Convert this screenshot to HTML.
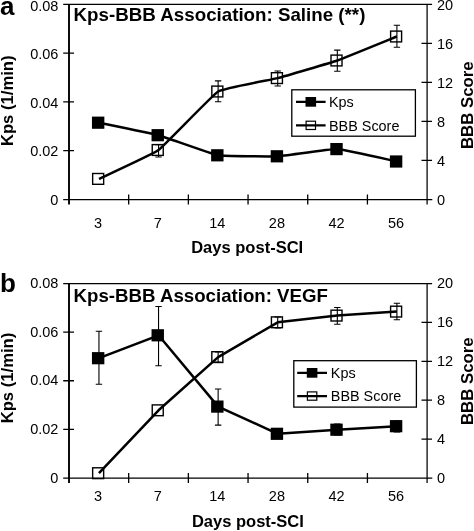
<!DOCTYPE html>
<html><head><meta charset="utf-8"><title>Kps-BBB Association</title>
<style>
html,body{margin:0;padding:0;background:#fff;}
body{width:474px;height:531px;overflow:hidden;}
svg{display:block;will-change:transform;transform:translateZ(0);font-family:"Liberation Sans", sans-serif;}
.t{font-size:14.5px;fill:#000;font-family:"Liberation Sans", sans-serif;}
.b{font-weight:bold;fill:#000;font-family:"Liberation Sans", sans-serif;}
</style></head><body>
<svg width="474" height="531" viewBox="0 0 474 531">
<rect width="474" height="531" fill="#fff"/>
<path d="M63.2,4.3 H432.1 M63.2,199.5 H432.3 M427.1,4.3 V204.5" stroke="#000" stroke-width="1.25" fill="none"/>
<path d="M69.0,4.3 V204.5" stroke="#000" stroke-width="1.9" fill="none"/>
<path d="M63.2,53.10 H74.0 M63.2,101.90 H74.0 M63.2,150.70 H74.0 M421.5,43.34 H432.0 M421.5,82.38 H432.0 M421.5,121.42 H432.0 M421.5,160.46 H432.0 M128.68,194.5 V204.5 M188.37,194.5 V204.5 M248.05,194.5 V204.5 M307.73,194.5 V204.5 M367.42,194.5 V204.5 " stroke="#000" stroke-width="1.3" fill="none"/>
<text x="58.4" y="10.50" text-anchor="end" class="t">0.08</text>
<text x="58.4" y="58.80" text-anchor="end" class="t">0.06</text>
<text x="58.4" y="107.60" text-anchor="end" class="t">0.04</text>
<text x="58.4" y="156.40" text-anchor="end" class="t">0.02</text>
<text x="58.4" y="205.20" text-anchor="end" class="t">0</text>
<text x="437" y="10.10" class="t">20</text>
<text x="437" y="49.14" class="t">16</text>
<text x="437" y="88.18" class="t">12</text>
<text x="437" y="127.22" class="t">8</text>
<text x="437" y="166.26" class="t">4</text>
<text x="437" y="205.30" class="t">0</text>
<text x="98.15" y="227.50" text-anchor="middle" class="t">3</text>
<text x="157.74" y="227.50" text-anchor="middle" class="t">7</text>
<text x="217.33" y="227.50" text-anchor="middle" class="t">14</text>
<text x="276.92" y="227.50" text-anchor="middle" class="t">28</text>
<text x="336.51" y="227.50" text-anchor="middle" class="t">42</text>
<text x="396.10" y="227.50" text-anchor="middle" class="t">56</text>
<text x="247.2" y="253.40" text-anchor="middle" class="b" font-size="16.3" textLength="112" lengthAdjust="spacingAndGlyphs">Days post-SCI</text>
<text transform="translate(13.1,100.80) rotate(-90)" text-anchor="middle" class="b" font-size="16.5" textLength="90.6" lengthAdjust="spacingAndGlyphs">Kps (1/min)</text>
<text transform="translate(472.8,105.20) rotate(-90)" text-anchor="middle" class="b" font-size="16.2" textLength="87.7" lengthAdjust="spacingAndGlyphs">BBB Score</text>
<text x="73.6" y="21.00" class="b" font-size="17.9" textLength="291.8" lengthAdjust="spacingAndGlyphs">Kps-BBB Association: Saline (**)</text>
<text transform="translate(0.0,15.3) scale(1,1)" class="b" font-size="26">a</text>
<path d="M158.54,144.60 V157.00 M155.34,144.60 H161.74 M155.34,157.00 H161.74 M218.13,80.90 V101.80 M214.93,80.90 H221.33 M214.93,101.80 H221.33 M277.72,71.00 V86.00 M274.52,71.00 H280.92 M274.52,86.00 H280.92 M337.31,50.10 V71.30 M334.11,50.10 H340.51 M334.11,71.30 H340.51 M396.90,25.20 V47.30 M393.70,25.20 H400.10 M393.70,47.30 H400.10 " stroke="#000" stroke-width="1.1" fill="none"/>
<path d="M98.95,122.70 C101.66,123.27 153.12,133.72 158.54,135.20 C163.96,136.68 212.71,154.34 218.13,155.30 C223.55,156.26 272.30,156.58 277.72,156.30 C283.14,156.02 331.89,148.86 337.31,149.10 C342.73,149.34 394.19,160.94 396.90,161.50" stroke="#000" stroke-width="2.5" fill="none" stroke-linejoin="round"/>
<path d="M98.95,178.90 C101.66,177.59 153.12,153.97 158.54,150.00 C163.96,146.03 212.71,94.77 218.13,91.50 C223.55,88.23 272.30,79.51 277.72,78.10 C283.14,76.69 331.89,62.39 337.31,60.50 C342.73,58.61 394.19,37.59 396.90,36.50" stroke="#000" stroke-width="2.5" fill="none" stroke-linejoin="round"/>
<rect x="91.95" y="116.60" width="12.4" height="12.2" fill="#000"/>
<rect x="151.54" y="129.10" width="12.4" height="12.2" fill="#000"/>
<rect x="211.13" y="149.20" width="12.4" height="12.2" fill="#000"/>
<rect x="270.72" y="150.20" width="12.4" height="12.2" fill="#000"/>
<rect x="330.31" y="143.00" width="12.4" height="12.2" fill="#000"/>
<rect x="389.90" y="155.40" width="12.4" height="12.2" fill="#000"/>
<rect x="92.65" y="173.50" width="11" height="10.8" fill="none" stroke="#000" stroke-width="1.4"/>
<rect x="152.24" y="144.60" width="11" height="10.8" fill="none" stroke="#000" stroke-width="1.4"/>
<rect x="211.83" y="86.10" width="11" height="10.8" fill="none" stroke="#000" stroke-width="1.4"/>
<rect x="271.42" y="72.70" width="11" height="10.8" fill="none" stroke="#000" stroke-width="1.4"/>
<rect x="331.01" y="55.10" width="11" height="10.8" fill="none" stroke="#000" stroke-width="1.4"/>
<rect x="390.60" y="31.10" width="11" height="10.8" fill="none" stroke="#000" stroke-width="1.4"/>
<rect x="291.8" y="89.8" width="123.59999999999997" height="46.39999999999999" fill="#fff" stroke="#000" stroke-width="1.3"/>
<path d="M296,101.8 H325.6 M296,125.4 H325.6" stroke="#000" stroke-width="2.3"/>
<rect x="305.5" y="97.0" width="10.6" height="9.7" fill="#000"/>
<rect x="306.1" y="121.2" width="9.4" height="8.3" fill="none" stroke="#000" stroke-width="1.2"/>
<text x="329" y="107.0" class="t" style="font-size:14.4px">Kps</text>
<text x="329" y="130.6" class="t" style="font-size:14.4px">BBB Score</text>
<path d="M63.2,283.5 H432.1 M63.2,478.0 H432.3 M427.1,283.5 V483.0" stroke="#000" stroke-width="1.25" fill="none"/>
<path d="M69.0,283.5 V483.0" stroke="#000" stroke-width="1.9" fill="none"/>
<path d="M63.2,332.12 H74.0 M63.2,380.75 H74.0 M63.2,429.38 H74.0 M421.5,322.40 H432.0 M421.5,361.30 H432.0 M421.5,400.20 H432.0 M421.5,439.10 H432.0 M128.68,473.0 V483.0 M188.37,473.0 V483.0 M248.05,473.0 V483.0 M307.73,473.0 V483.0 M367.42,473.0 V483.0 " stroke="#000" stroke-width="1.3" fill="none"/>
<text x="58.4" y="288.20" text-anchor="end" class="t">0.08</text>
<text x="58.4" y="336.82" text-anchor="end" class="t">0.06</text>
<text x="58.4" y="385.45" text-anchor="end" class="t">0.04</text>
<text x="58.4" y="434.07" text-anchor="end" class="t">0.02</text>
<text x="58.4" y="482.70" text-anchor="end" class="t">0</text>
<text x="437" y="288.20" class="t">20</text>
<text x="437" y="327.10" class="t">16</text>
<text x="437" y="366.00" class="t">12</text>
<text x="437" y="404.90" class="t">8</text>
<text x="437" y="443.80" class="t">4</text>
<text x="437" y="482.70" class="t">0</text>
<text x="98.15" y="500.60" text-anchor="middle" class="t">3</text>
<text x="157.74" y="500.60" text-anchor="middle" class="t">7</text>
<text x="217.33" y="500.60" text-anchor="middle" class="t">14</text>
<text x="276.92" y="500.60" text-anchor="middle" class="t">28</text>
<text x="336.51" y="500.60" text-anchor="middle" class="t">42</text>
<text x="396.10" y="500.60" text-anchor="middle" class="t">56</text>
<text x="247.9" y="526.90" text-anchor="middle" class="b" font-size="16.3" textLength="112" lengthAdjust="spacingAndGlyphs">Days post-SCI</text>
<text transform="translate(13.1,378.05) rotate(-90)" text-anchor="middle" class="b" font-size="16.5" textLength="90.6" lengthAdjust="spacingAndGlyphs">Kps (1/min)</text>
<text transform="translate(472.8,381.25) rotate(-90)" text-anchor="middle" class="b" font-size="16.2" textLength="87.7" lengthAdjust="spacingAndGlyphs">BBB Score</text>
<text x="73.6" y="301.60" class="b" font-size="17.9" textLength="254.3" lengthAdjust="spacingAndGlyphs">Kps-BBB Association: VEGF</text>
<text transform="translate(0.1,291.5) scale(1,1)" class="b" font-size="26">b</text>
<path d="M98.95,331.30 V384.20 M95.75,331.30 H102.15 M95.75,384.20 H102.15 M158.54,306.50 V365.80 M155.34,306.50 H161.74 M155.34,365.80 H161.74 M218.13,389.00 V425.10 M214.93,389.00 H221.33 M214.93,425.10 H221.33 M337.31,424.00 V435.00 M334.11,424.00 H340.51 M334.11,435.00 H340.51 M396.90,421.00 V432.00 M393.70,421.00 H400.10 M393.70,432.00 H400.10 M218.13,352.00 V362.00 M214.93,352.00 H221.33 M214.93,362.00 H221.33 M277.72,317.00 V328.00 M274.52,317.00 H280.92 M274.52,328.00 H280.92 M337.31,307.50 V324.20 M334.11,307.50 H340.51 M334.11,324.20 H340.51 M396.90,303.30 V319.80 M393.70,303.30 H400.10 M393.70,319.80 H400.10 " stroke="#000" stroke-width="1.1" fill="none"/>
<path d="M98.95,358.20 L158.54,335.30 L218.13,406.60 L277.72,433.80 L337.31,429.70 L396.90,426.20" stroke="#000" stroke-width="2.5" fill="none" stroke-linejoin="round"/>
<path d="M98.95,473.20 L158.54,410.30 L218.13,357.10 L277.72,322.30 L337.31,315.60 L396.90,311.60" stroke="#000" stroke-width="2.5" fill="none" stroke-linejoin="round"/>
<rect x="91.95" y="352.10" width="12.4" height="12.2" fill="#000"/>
<rect x="151.54" y="329.20" width="12.4" height="12.2" fill="#000"/>
<rect x="211.13" y="400.50" width="12.4" height="12.2" fill="#000"/>
<rect x="270.72" y="427.70" width="12.4" height="12.2" fill="#000"/>
<rect x="330.31" y="423.60" width="12.4" height="12.2" fill="#000"/>
<rect x="389.90" y="420.10" width="12.4" height="12.2" fill="#000"/>
<rect x="92.65" y="467.80" width="11" height="10.8" fill="none" stroke="#000" stroke-width="1.4"/>
<rect x="152.24" y="404.90" width="11" height="10.8" fill="none" stroke="#000" stroke-width="1.4"/>
<rect x="211.83" y="351.70" width="11" height="10.8" fill="none" stroke="#000" stroke-width="1.4"/>
<rect x="271.42" y="316.90" width="11" height="10.8" fill="none" stroke="#000" stroke-width="1.4"/>
<rect x="331.01" y="310.20" width="11" height="10.8" fill="none" stroke="#000" stroke-width="1.4"/>
<rect x="390.60" y="306.20" width="11" height="10.8" fill="none" stroke="#000" stroke-width="1.4"/>
<rect x="293.8" y="360.7" width="122.59999999999997" height="46.400000000000034" fill="#fff" stroke="#000" stroke-width="1.3"/>
<path d="M297.2,372.8 H327 M297.2,396.1 H327" stroke="#000" stroke-width="2.3"/>
<rect x="306.8" y="368.0" width="10.6" height="9.7" fill="#000"/>
<rect x="307.40000000000003" y="391.90000000000003" width="9.4" height="8.3" fill="none" stroke="#000" stroke-width="1.2"/>
<text x="330.8" y="378.0" class="t" style="font-size:14.4px">Kps</text>
<text x="330.8" y="401.3" class="t" style="font-size:14.4px">BBB Score</text>
</svg>
</body></html>
